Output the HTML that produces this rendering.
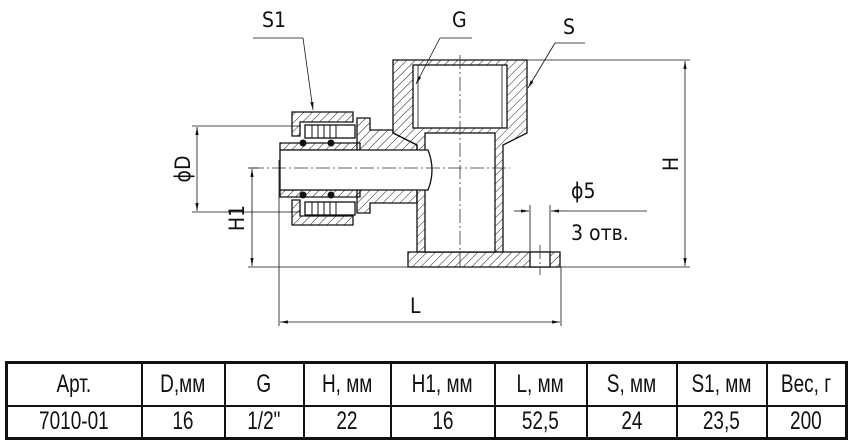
<!DOCTYPE html>
<html><head><meta charset="utf-8"><style>
body{margin:0;background:#fff;width:849px;height:445px;overflow:hidden;position:relative;font-family:"Liberation Sans","DejaVu Sans",sans-serif}
svg{position:absolute;left:0;top:0}
table{position:absolute;left:5px;top:361px;width:840px;height:79px;border-collapse:collapse;border:3px solid #111;table-layout:fixed}
td{border:2px solid #111;text-align:center;font-size:25px;color:#111;padding:0;white-space:nowrap;overflow:hidden}
td span{display:inline-block;transform:scaleX(0.76)}
tr.r1{height:43px}
</style></head><body>
<svg width="849" height="360" viewBox="0 0 849 360">
<defs>
<pattern id="h" patternUnits="userSpaceOnUse" width="6" height="6" patternTransform="rotate(45)">
<line x1="0" y1="0" x2="0" y2="6" stroke="#222" stroke-width="1"/></pattern>
<marker id="a" viewBox="0 0 10 4" refX="10" refY="2" markerWidth="10" markerHeight="4" orient="auto-start-reverse"><path d="M0,0L10,2L0,4z" fill="#111"/></marker>
</defs>
<g stroke="#111" stroke-width="1.3" fill="url(#h)">
<path d="M393,60H527V133L503,145V252H417V145L393,133Z"/>
<path d="M408,252H560V267H408Z"/>
<path d="M357,118L370,118V130L393,130V133L417,145V203H370V213H357Z"/>
<path d="M292,112H353V122H300V136H292Z"/>
<path d="M292,200H300V216H353V225H292Z"/>
<path d="M280,143H360V150H280Z"/>
<path d="M280,190H360V197H280Z"/>
</g>
<g stroke="#111" stroke-width="1.3" fill="#fff">
<rect x="413" y="65" width="94" height="63"/>
<rect x="425" y="133" width="70" height="119"/>
<path d="M280,150H428Q436,170 428,190H280Z"/>
<rect x="530" y="252" width="20" height="15"/>
<rect x="305" y="125" width="50" height="13"/>
<rect x="305" y="202" width="50" height="13"/>
</g>
<g stroke="#111" stroke-width="0.8" fill="none">
<line x1="418" y1="65" x2="418" y2="128"/><line x1="502" y1="65" x2="502" y2="128"/>
</g>
<g stroke="#111" stroke-width="1">
<line x1="312" y1="125" x2="312" y2="138"/><line x1="318" y1="125" x2="318" y2="138"/><line x1="324" y1="125" x2="324" y2="138"/><line x1="330" y1="125" x2="330" y2="138"/><line x1="336" y1="125" x2="336" y2="138"/>
<line x1="312" y1="202" x2="312" y2="215"/><line x1="318" y1="202" x2="318" y2="215"/><line x1="324" y1="202" x2="324" y2="215"/><line x1="330" y1="202" x2="330" y2="215"/><line x1="336" y1="202" x2="336" y2="215"/>
</g>
<g fill="#111"><circle cx="303" cy="143" r="3.5"/><circle cx="331" cy="143" r="3.5"/><circle cx="303" cy="195" r="3.5"/><circle cx="331" cy="195" r="3.5"/></g>
<g stroke="#333" stroke-width="0.8" stroke-dasharray="14,3,2,3">
<line x1="250" y1="168" x2="510" y2="168"/><line x1="460" y1="55" x2="460" y2="270"/><line x1="540" y1="245" x2="540" y2="275"/>
</g>
<g stroke="#111" stroke-width="0.8" fill="none">
<line x1="192" y1="126" x2="300" y2="126"/><line x1="192" y1="212" x2="300" y2="212"/>
<line x1="197" y1="127" x2="197" y2="211" marker-start="url(#a)" marker-end="url(#a)"/>
<line x1="248" y1="168" x2="258" y2="168"/><line x1="248" y1="267" x2="408" y2="267"/>
<line x1="252" y1="169" x2="252" y2="266" marker-start="url(#a)" marker-end="url(#a)"/>
<line x1="279" y1="160" x2="279" y2="326"/><line x1="561" y1="267" x2="561" y2="326"/>
<line x1="280" y1="322" x2="560" y2="322" marker-start="url(#a)" marker-end="url(#a)"/>
<line x1="527" y1="60" x2="690" y2="60"/><line x1="560" y1="267" x2="690" y2="267"/>
<line x1="685" y1="61" x2="685" y2="266" marker-start="url(#a)" marker-end="url(#a)"/>
<line x1="530" y1="205" x2="530" y2="267"/><line x1="550" y1="205" x2="550" y2="267"/>
<line x1="514" y1="211" x2="529" y2="211" marker-end="url(#a)"/>
<line x1="566" y1="211" x2="551" y2="211" marker-end="url(#a)"/><line x1="566" y1="211" x2="647" y2="211"/>
<line x1="253" y1="38" x2="303" y2="38"/><line x1="303" y1="38" x2="313" y2="110" marker-end="url(#a)"/>
<line x1="440" y1="38" x2="472" y2="38"/><line x1="440" y1="38" x2="416" y2="84" marker-end="url(#a)"/>
<line x1="555" y1="43" x2="585" y2="43"/><line x1="555" y1="43" x2="528" y2="88" marker-end="url(#a)"/>
</g>
<g font-family="'DejaVu Sans Condensed','Liberation Sans Narrow',sans-serif" font-size="21" fill="#111">
<text x="262" y="27">S1</text><text x="452" y="27">G</text><text x="563" y="34">S</text>
<text x="410" y="313">L</text>
<text x="571" y="198">ϕ5</text><text x="571" y="240">3 отв.</text>
<text transform="translate(190,169) rotate(-90)" text-anchor="middle">ϕD</text>
<text transform="translate(244,218) rotate(-90)" text-anchor="middle">H1</text>
<text transform="translate(678,164) rotate(-90)" text-anchor="middle">H</text>
</g>
</svg>
<table>
<colgroup><col style="width:135px"><col style="width:83px"><col style="width:79px"><col style="width:87px"><col style="width:104px"><col style="width:92px"><col style="width:90px"><col style="width:90px"><col style="width:80px"></colgroup>
<tr class="r1"><td><span>Арт.</span></td><td><span>D,мм</span></td><td><span>G</span></td><td><span>H, мм</span></td><td><span>H1, мм</span></td><td><span>L, мм</span></td><td><span>S, мм</span></td><td><span>S1, мм</span></td><td><span>Вес, г</span></td></tr>
<tr><td><span>7010-01</span></td><td><span>16</span></td><td><span>1/2"</span></td><td><span>22</span></td><td><span>16</span></td><td><span>52,5</span></td><td><span>24</span></td><td><span>23,5</span></td><td><span>200</span></td></tr>
</table>
</body></html>
